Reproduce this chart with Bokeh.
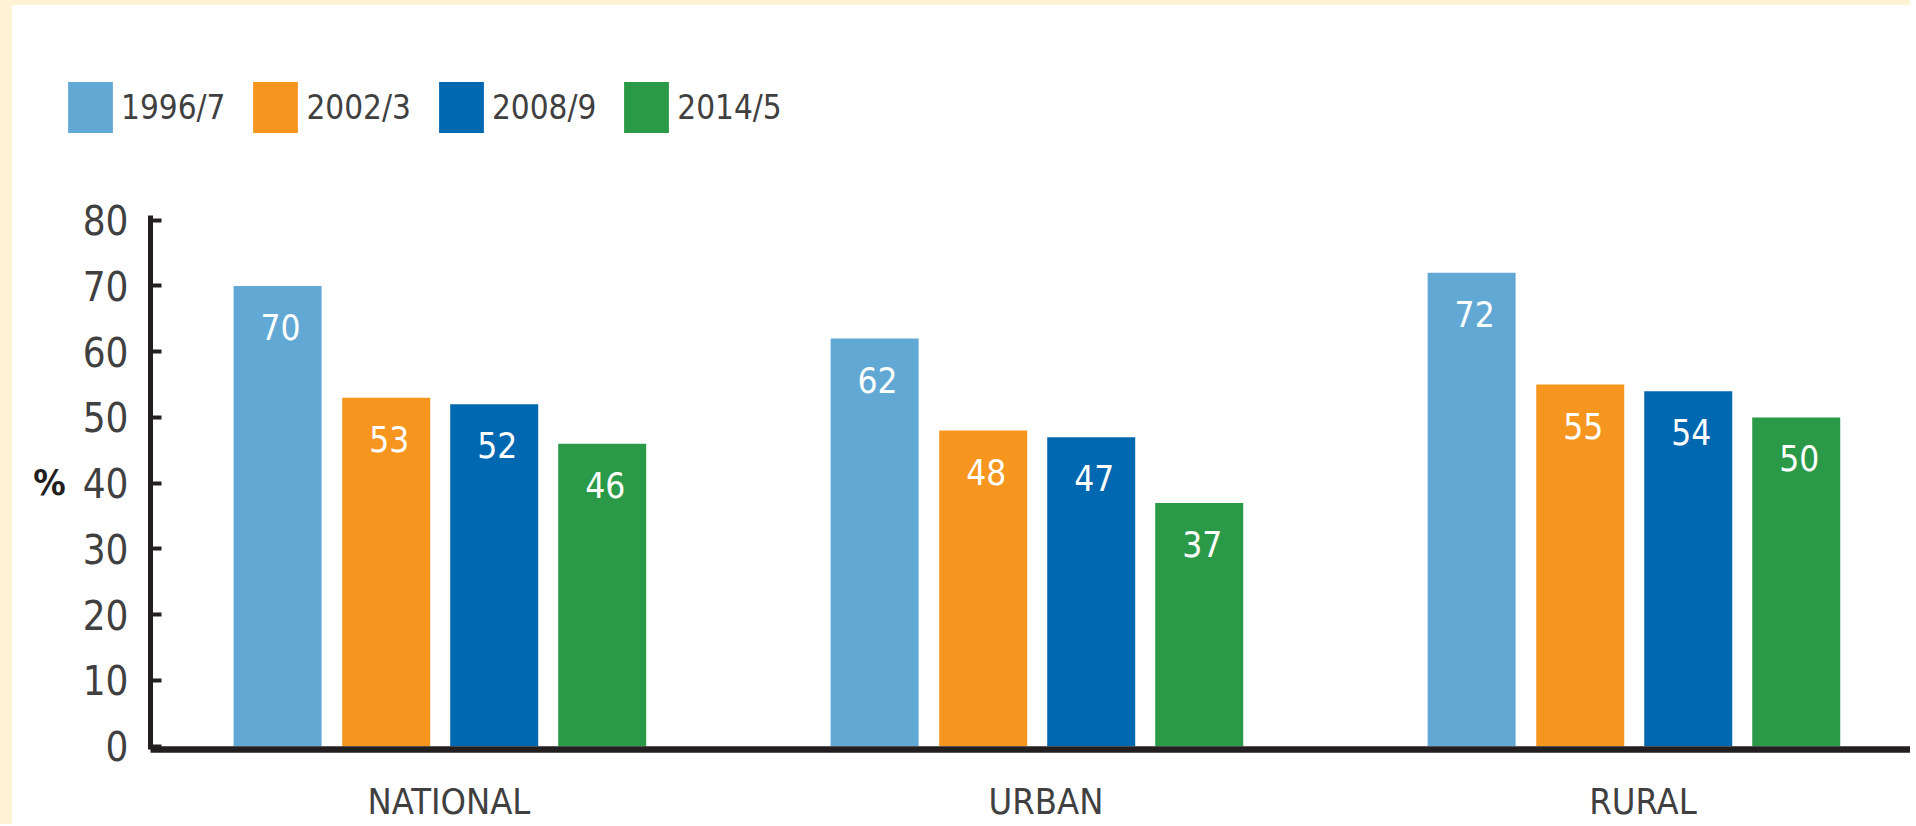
from bokeh.plotting import figure
from bokeh.layouts import column, row
from bokeh.models import ColumnDataSource, Range1d, FixedTicker, Legend, LegendItem, Div
from bokeh.transform import dodge
from bokeh.core.properties import value
from bokeh.embed import file_html
from bokeh.resources import INLINE

# ---- data ----
categories = ["NATIONAL", "URBAN", "RURAL"]
years = ["1996/7", "2002/3", "2008/9", "2014/5"]
v_1996_7 = [70, 62, 72]
v_2002_3 = [53, 48, 55]
v_2008_9 = [52, 47, 54]
v_2014_5 = [46, 37, 50]
y_ticks = [0, 10, 20, 30, 40, 50, 60, 70, 80]
y_axis_label = "%"

series = [v_1996_7, v_2002_3, v_2008_9, v_2014_5]
colors = ["#62A8D4", "#F7961F", "#0067B1", "#2A9A48"]
offsets = [-0.2871, -0.1052, 0.0757, 0.2566]
bar_width = 0.1474

FONT_NAME = "DejaVu Sans Condensed"
FONT = value(FONT_NAME)
TXT = "#404040"
AXC = "#231F20"
CREAM = "#FFF3D6"

LEFT_STRIP = 12
TOP_STRIP = 5
W = 1898
LEG_H = 145
MAIN_H = 674

pos = list(range(len(categories)))
data = dict(pos=pos, cat=categories)
for i, s in enumerate(series):
    data["v%d" % i] = s
    data["t%d" % i] = [str(v) for v in s]
src = ColumnDataSource(data)

# ---- legend strip (separate small figure above the chart) ----
lf = figure(width=W, height=LEG_H, x_range=Range1d(100, 101), y_range=Range1d(1000, 1001),
            output_backend="svg", toolbar_location=None,
            x_axis_type=None, y_axis_type=None,
            min_border_left=0, min_border_right=0, min_border_top=0, min_border_bottom=0)
lf.outline_line_color = None
lf.xgrid.grid_line_color = None
lf.ygrid.grid_line_color = None
leg_items = []
for i, yr in enumerate(years):
    # same bars, outside this strip's visible ranges: only their legend swatch shows
    r = lf.vbar(x="pos", top="v%d" % i, bottom=0, width=bar_width, source=src,
                fill_color=colors[i], line_color=None)
    leg_items.append(LegendItem(label=yr, renderers=[r]))
legend = Legend(items=leg_items, orientation="horizontal", location=(50, 11),
                padding=0, margin=0, spacing=22, label_standoff=3,
                glyph_width=56, glyph_height=64,
                border_line_color=None, background_fill_alpha=0,
                label_text_font=FONT_NAME, label_text_font_size="33px",
                label_text_color=TXT)
lf.add_layout(legend)

# ---- main chart ----
p = figure(width=W, height=MAIN_H,
           x_range=Range1d(-0.5, 2.448), y_range=Range1d(-0.5, 80.71),
           output_backend="svg", toolbar_location=None,
           min_border_left=150 - LEFT_STRIP, min_border_right=0,
           min_border_top=215 - LEG_H - TOP_STRIP, min_border_bottom=73)
p.outline_line_color = None
p.xgrid.grid_line_color = None
p.ygrid.grid_line_color = None
p.background_fill_color = "white"
p.border_fill_color = "white"

for i, s in enumerate(series):
    p.vbar(x=dodge("pos", offsets[i], range=p.x_range), top="v%d" % i,
           bottom=0, width=bar_width, source=src,
           fill_color=colors[i], line_color=None)
    p.text(x=dodge("pos", offsets[i], range=p.x_range), y="v%d" % i,
           text="t%d" % i, source=src, text_align="center",
           text_baseline="top", x_offset=3, y_offset=28,
           text_font=FONT, text_font_size="35px", text_color="white")

# y axis
ya = p.yaxis[0]
ya.ticker = FixedTicker(ticks=y_ticks)
ya.axis_line_width = 5
ya.axis_line_color = AXC
ya.major_tick_line_width = 4
ya.major_tick_line_color = AXC
ya.major_tick_in = 11
ya.major_tick_out = 0
ya.minor_tick_line_color = None
ya.major_label_text_font = FONT_NAME
ya.major_label_text_font_size = "40px"
ya.major_label_text_color = TXT
ya.major_label_standoff = 22
ya.axis_label = y_axis_label
ya.axis_label_orientation = "horizontal"
ya.axis_label_text_font = FONT_NAME
ya.axis_label_text_font_size = "36px"
ya.axis_label_text_font_style = "bold"
ya.axis_label_text_color = AXC
ya.axis_label_standoff = 14

# x axis
xa = p.xaxis[0]
xa.ticker = FixedTicker(ticks=pos)
xa.major_label_overrides = {i: c for i, c in zip(pos, categories)}
xa.axis_line_width = 6.5
xa.axis_line_color = AXC
xa.major_tick_in = 0
xa.major_tick_out = 0
xa.major_tick_line_color = None
xa.minor_tick_line_color = None
xa.major_label_text_font = FONT_NAME
xa.major_label_text_font_size = "36px"
xa.major_label_text_color = TXT
xa.major_label_standoff = 31

left_strip = Div(text="", width=LEFT_STRIP, height=TOP_STRIP + LEG_H + MAIN_H, margin=0,
                 styles={"background-color": CREAM})
top_strip = Div(text="", width=W, height=TOP_STRIP, margin=0,
                styles={"background-color": CREAM})

layout = row(left_strip, column(top_strip, row(lf), p, spacing=0), spacing=0)
open("out.html", "w").write(file_html(layout, INLINE))
